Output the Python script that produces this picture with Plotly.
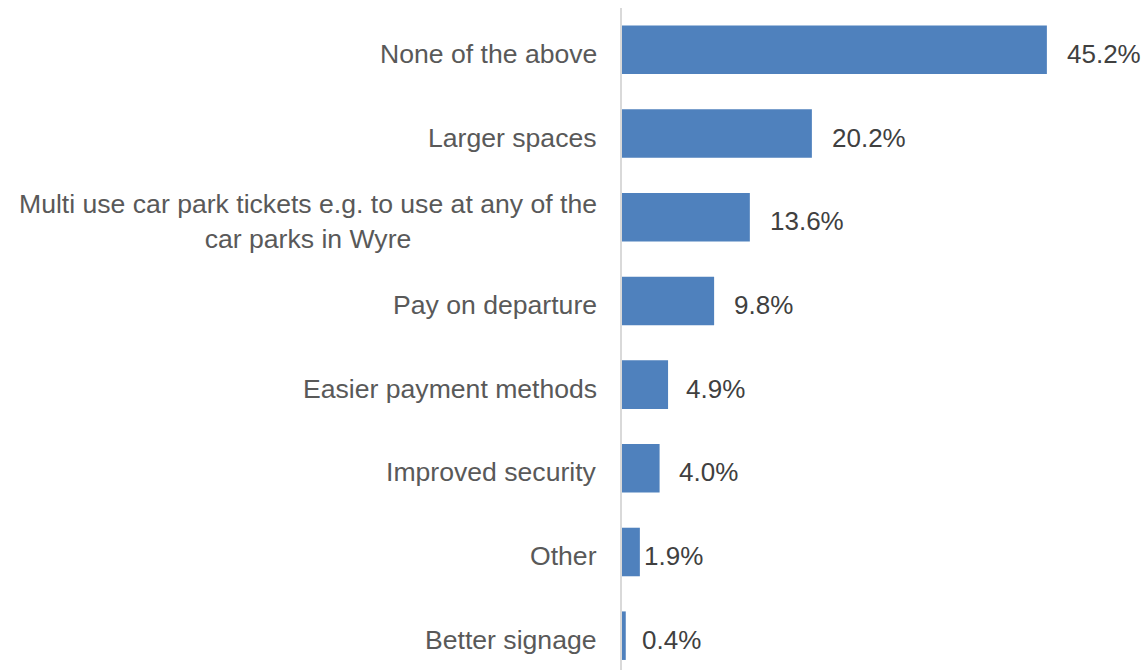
import plotly.graph_objects as go

categories = [
    "None of the above",
    "Larger spaces",
    "Multi use car park tickets e.g. to use at any of the<br>car parks in Wyre",
    "Pay on departure",
    "Easier payment methods",
    "Improved security",
    "Other",
    "Better signage",
]
values = [45.2, 20.2, 13.6, 9.8, 4.9, 4.0, 1.9, 0.4]
# horizontal pixel offset of each value label from its bar end
label_shift = [18, 18, 18, 18, 16, 17, 2, 14]

BAR = "#4F81BD"
FONT = "Liberation Sans, Arial, sans-serif"

fig = go.Figure(
    go.Bar(
        x=values,
        y=categories,
        orientation="h",
        marker=dict(color=BAR, line=dict(width=0)),
        width=0.58,
        hoverinfo="skip",
    )
)

annotations = []
for cat, v, s in zip(categories, values, label_shift):
    annotations.append(dict(
        x=v, y=cat, xref="x", yref="y", text=f"{v:.1f}%",
        showarrow=False, xanchor="left", xshift=s, yshift=-4,
        font=dict(family=FONT, size=26, color="#404040"),
    ))
    annotations.append(dict(
        x=0, y=cat, xref="paper", yref="y", text=cat,
        showarrow=False, xanchor="right", align="center", xshift=-23,
        yshift=-4,
        font=dict(family=FONT, size=26.6, color="#595959"),
    ))

fig.update_layout(
    width=1146, height=670,
    margin=dict(l=622, r=54, t=8, b=0),
    paper_bgcolor="white", plot_bgcolor="white",
    showlegend=False,
    annotations=annotations,
    xaxis=dict(range=[0, 50], showgrid=False, zeroline=False,
               showticklabels=False, showline=False, fixedrange=True),
    yaxis=dict(type="category", categoryorder="array", categoryarray=categories,
               range=[7.41, -0.5], showgrid=False, zeroline=False,
               showticklabels=False, showline=True, linecolor="#D9D9D9",
               linewidth=2, ticks="", fixedrange=True),
)

fig.write_html("out.html")
